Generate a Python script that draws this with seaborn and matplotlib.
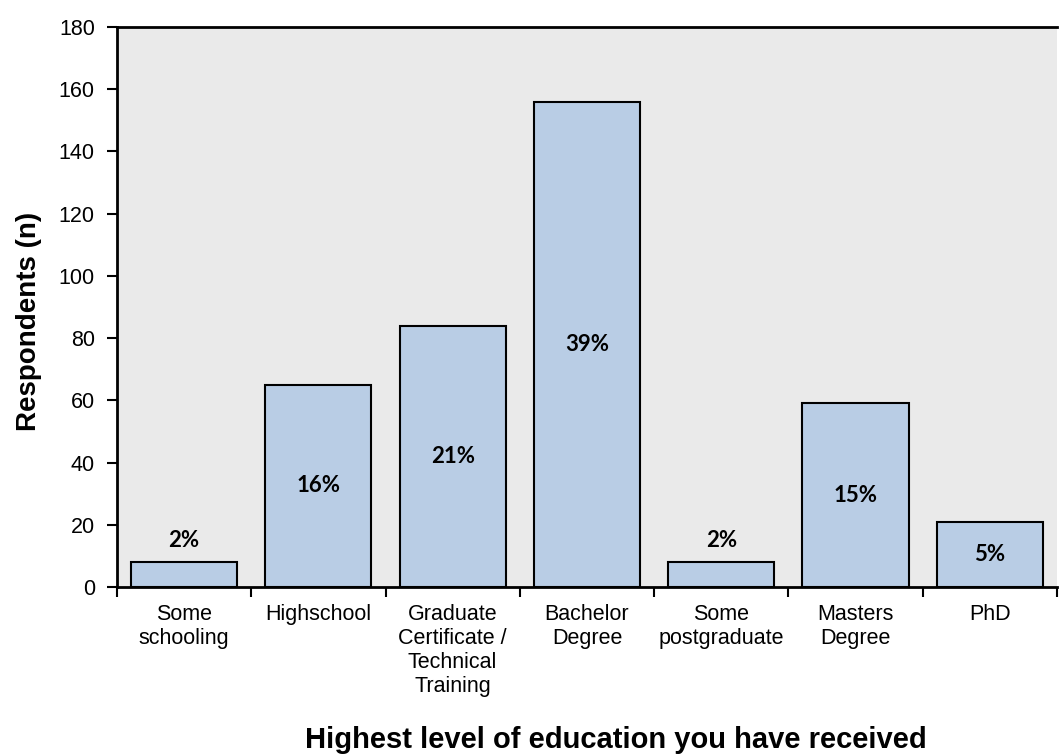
import matplotlib
matplotlib.use("Agg")
import matplotlib.pyplot as plt
import seaborn as sns
import pandas as pd
import numpy as np

categories = ["Some\nschooling", "Highschool", "Graduate\nCertificate /\nTechnical\nTraining",
              "Bachelor\nDegree", "Some\npostgraduate", "Masters\nDegree", "PhD"]
respondents = [8, 65, 84, 156, 8, 59, 21]
percent_labels = ["2%", "16%", "21%", "39%", "2%", "15%", "5%"]
y_ticks = [0, 20, 40, 60, 80, 100, 120, 140, 160, 180]

df = pd.DataFrame({"category": categories, "n": respondents})

sns.set_style("white")
plt.rcParams['font.family'] = ['Liberation Sans', 'DejaVu Sans']
plt.rcParams['text.color'] = 'black'
plt.rcParams['xtick.color'] = 'black'
plt.rcParams['ytick.color'] = 'black'
plt.rcParams['axes.labelcolor'] = 'black'

fig = plt.figure(figsize=(10.59, 7.55), dpi=100)
ax = fig.add_axes([0.1105, 0.2225, 0.8875, 0.7417])
ax.set_facecolor("#EAEAEA")

sns.barplot(data=df, x="category", y="n", color="#B9CDE5", edgecolor="black",
            linewidth=1.5, width=0.79, saturation=1, ax=ax)

ax.set_ylim(0, 180)
ax.set_xlim(-0.5, len(categories) - 0.5)
ax.set_yticks(y_ticks)
ax.tick_params(axis="y", labelsize=15.5, length=7, width=1.5, direction="out", left=True, pad=9)
ax.tick_params(axis="x", which="major", labelsize=15.5, length=0, pad=12)
ax.set_xticks(np.arange(-0.5, len(categories), 1.0), minor=True)
ax.tick_params(axis="x", which="minor", length=7, width=1.5, direction="out", bottom=True)
for t in ax.get_xticklabels():
    t.set_linespacing(1.2)

for s in ["left", "bottom", "top"]:
    ax.spines[s].set_visible(True)
    ax.spines[s].set_color("black")
    ax.spines[s].set_linewidth(2)
ax.spines["right"].set_visible(False)

for i, (v, lab) in enumerate(zip(respondents, percent_labels)):
    ypos = v + 7 if v < 12 else v / 2
    ax.text(i, ypos, lab, ha="center", va="center", fontsize=16, fontweight="bold",
            family=["Lato", "DejaVu Sans"])

ax.set_xlabel("Highest level of education you have received", fontsize=21, fontweight="bold")
ax.set_ylabel("Respondents (n)", fontsize=20, fontweight="bold")
ax.xaxis.label.set_va("baseline")
ax.xaxis.set_label_coords(0.531, -0.2875)
ax.yaxis.set_label_coords(-0.080, 0.475)

fig.savefig("out.png", dpi=100)
